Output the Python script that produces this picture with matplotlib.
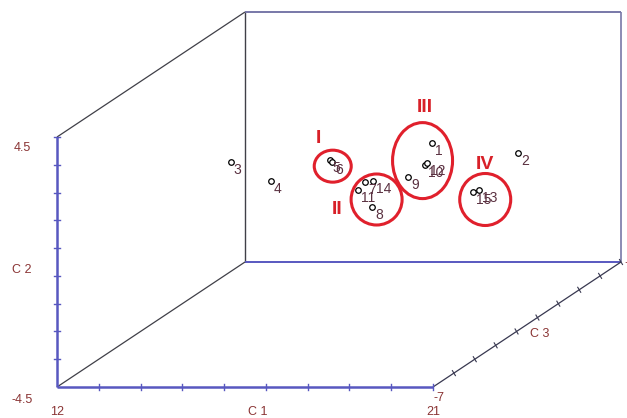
import matplotlib.pyplot as plt
from matplotlib.patches import Ellipse

plt.rcParams['font.family'] = ['Liberation Sans', 'DejaVu Sans']

# sample scores on the three components (C3 taken as mid depth)
labels = ['1', '2', '3', '4', '5', '6', '7', '8', '9', '10', '11', '12', '13', '14', '15']
c1 = [18.73, 20.78, 13.91, 14.87, 16.28, 16.33, 17.12, 17.29, 18.15, 18.56, 16.95, 18.61, 19.85, 17.31, 19.71]
c2 = [2.03, 1.67, 1.35, 0.67, 1.42, 1.35, 0.63, -0.27, 0.81, 1.25, 0.34, 1.32, 0.34, 0.67, 0.27]
c3 = [0.0] * 15

c1_range = (12, 21)
c2_range = (-4.5, 4.5)
c3_range = (-7, 7)

# groups marked by hand: name, centre (c1, c2), size in pixels, label position (c1, c2)
groups = [
    ('I', (16.35, 1.2), (37, 32), (16.0, 2.2)),
    ('II', (17.4, 0.0), (51, 51), (16.45, -0.35)),
    ('III', (18.5, 1.4), (60, 76), (18.55, 3.3)),
    ('IV', (20.0, 0.0), (51, 52), (20.0, 1.25)),
]

# oblique projection of the box onto the picture (pixel units)
X0, Y0 = 57, 387
FW, FH = 376, 250
DX, DY = 188, -125


def proj(a, b, c):
    x = X0 + (a - c1_range[0]) / (c1_range[1] - c1_range[0]) * FW \
        + (c - c3_range[0]) / (c3_range[1] - c3_range[0]) * DX
    y = Y0 - (b - c2_range[0]) / (c2_range[1] - c2_range[0]) * FH \
        + (c - c3_range[0]) / (c3_range[1] - c3_range[0]) * DY
    return x, y


fig = plt.figure(figsize=(6.27, 4.18), dpi=100)
ax = fig.add_axes([0, 0, 1, 1])
ax.set_xlim(0, 627)
ax.set_ylim(418, 0)
ax.axis('off')

lo1, hi1 = c1_range
lo2, hi2 = c2_range
lo3, hi3 = c3_range

blue = '#5858c0'
grey_blue = '#7878a8'
dark = '#404048'
txt = '#8a3434'


def seg(p, q, color, lw):
    ax.plot([p[0], q[0]], [p[1], q[1]], color=color, lw=lw, solid_capstyle='butt')


# back box
seg(proj(lo1, lo2, hi3), proj(lo1, hi2, hi3), dark, 1.0)
seg(proj(lo1, hi2, hi3), proj(hi1, hi2, hi3), grey_blue, 1.4)
seg(proj(hi1, hi2, hi3), proj(hi1, lo2, hi3), grey_blue, 1.2)
seg(proj(lo1, lo2, hi3), proj(hi1, lo2, hi3), blue, 1.4)
# depth edges
seg(proj(lo1, hi2, lo3), proj(lo1, hi2, hi3), dark, 0.9)
seg(proj(lo1, lo2, lo3), proj(lo1, lo2, hi3), dark, 0.9)
seg(proj(hi1, lo2, lo3), proj(hi1, lo2, hi3), '#383850', 0.9)
# front axes
seg(proj(lo1, lo2, lo3), proj(lo1, hi2, lo3), blue, 1.8)
seg(proj(lo1, lo2, lo3), proj(hi1, lo2, lo3), blue, 1.8)

# ticks
for i in range(1, 10):
    x, y = proj(lo1, lo2 + i * (hi2 - lo2) / 9, lo3)
    ax.plot([x - 3, x + 3], [y, y], color=blue, lw=1)
    x, y = proj(lo1 + i * (hi1 - lo1) / 9, lo2, lo3)
    ax.plot([x, x], [y - 3, y + 3], color=blue, lw=1)
    x, y = proj(hi1, lo2, lo3 + i * (hi3 - lo3) / 9)
    ax.plot([x - 1.5, x + 1.5], [y - 2.5, y + 2.5], color='#383850', lw=0.8)

fs = 9
ax.text(22, 148, '4.5', color=txt, fontsize=fs, ha='center', va='center')
ax.text(22, 400, '-4.5', color=txt, fontsize=fs, ha='center', va='center')
ax.text(22, 270, 'C 2', color=txt, fontsize=fs, ha='center', va='center')
ax.text(57, 412, '12', color=txt, fontsize=fs, ha='center', va='center')
ax.text(258, 412, 'C 1', color=txt, fontsize=fs, ha='center', va='center')
ax.text(433, 412, '21', color=txt, fontsize=fs, ha='center', va='center')
ax.text(433, 398, '-7', color=txt, fontsize=fs, ha='left', va='center')
ax.text(540, 334, 'C 3', color=txt, fontsize=fs, ha='center', va='center')
ax.text(624, 268, '7', color=txt, fontsize=fs, ha='left', va='center', clip_on=False)

# points
for lab, a, b, c in zip(labels, c1, c2, c3):
    x, y = proj(a, b, c)
    ax.plot(x, y, 'o', ms=4, mfc='white', mec='black', mew=0.9, zorder=5)
    ax.text(x + 3, y + 8, lab, color='#5a3040', fontsize=10, ha='left', va='center', zorder=6)

# hand-drawn groups
for name, (ga, gb), (w, h), (la, lb) in groups:
    x, y = proj(ga, gb, 0)
    ax.add_patch(Ellipse((x, y), w, h, fill=False, ec='#e0202c', lw=2.2, zorder=7))
    lx, ly = proj(la, lb, 0)
    ax.text(lx, ly, name, color='#d82028', fontsize=14, fontweight='bold',
            ha='center', va='center', zorder=7)

fig.savefig('out.png', dpi=100)
